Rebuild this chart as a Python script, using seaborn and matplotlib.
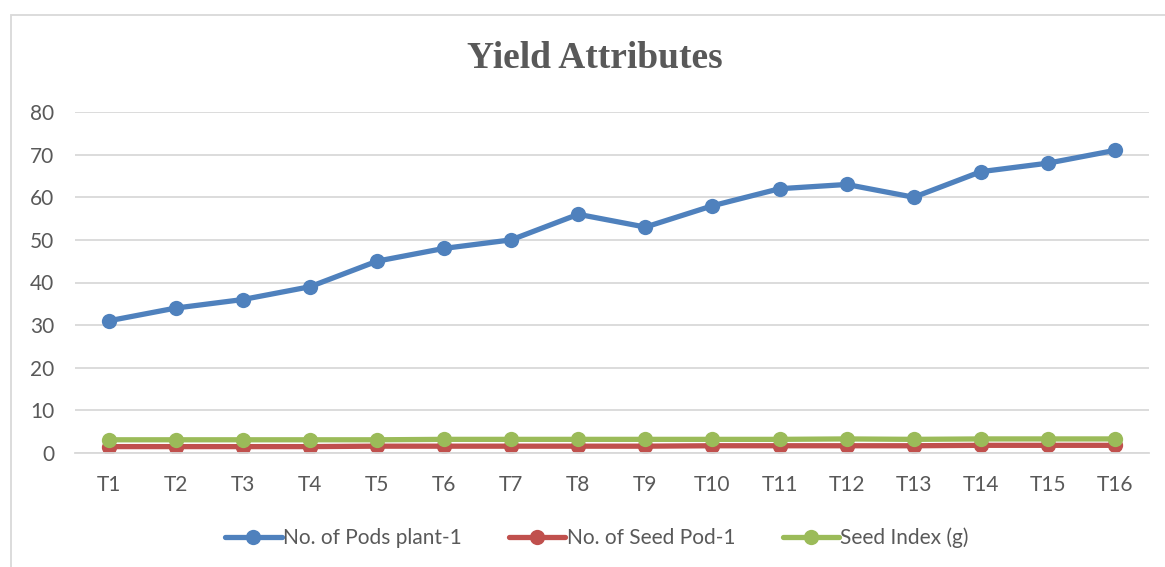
import matplotlib
matplotlib.use("Agg")
import matplotlib.pyplot as plt
import seaborn as sns
import pandas as pd
from matplotlib.patches import Rectangle

categories = ["T1", "T2", "T3", "T4", "T5", "T6", "T7", "T8",
              "T9", "T10", "T11", "T12", "T13", "T14", "T15", "T16"]
pods_per_plant = [31, 34, 36, 39, 45, 48, 50, 56, 53, 58, 62, 63, 60, 66, 68, 71]
seed_per_pod = [1.5, 1.5, 1.5, 1.5, 1.6, 1.6, 1.6, 1.6, 1.6, 1.7, 1.7, 1.7, 1.7, 1.8, 1.8, 1.8]
seed_index = [3.1, 3.1, 3.1, 3.1, 3.1, 3.2, 3.2, 3.2, 3.2, 3.2, 3.2, 3.3, 3.2, 3.3, 3.3, 3.3]
series_names = ["No. of Pods plant-1", "No. of Seed Pod-1", "Seed Index (g)"]
colors = ["#4F81BD", "#C0504D", "#9BBB59"]

rows = []
for name, vals in zip(series_names, [pods_per_plant, seed_per_pod, seed_index]):
    for c, v in zip(categories, vals):
        rows.append({"Treatment": c, "Value": v, "Series": name})
df = pd.DataFrame(rows)

sns.set_theme(style="white")
plt.rcParams["font.family"] = ["Lato", "DejaVu Sans"]
text_gray = "#595959"

fig = plt.figure(figsize=(11.65, 5.67), dpi=100)
ax = fig.add_axes([75 / 1165, 114 / 567, (1148.6 - 75) / 1165, (453 - 112) / 567])

sns.lineplot(data=df, x="Treatment", y="Value", hue="Series",
             hue_order=series_names, palette=colors, marker="o",
             markersize=11, markeredgewidth=0, linewidth=3.8,
             sort=False, ax=ax, legend=True)

ax.set_ylim(0, 80)
ax.set_xlim(-0.5, 15.5)
ax.set_yticks(range(0, 81, 10))
ax.yaxis.grid(True, color="#D9D9D9", linewidth=1.3)
ax.xaxis.grid(False)
for s in ["top", "right", "left"]:
    ax.spines[s].set_visible(False)
ax.spines["bottom"].set_color("#D9D9D9")
ax.spines["bottom"].set_linewidth(1.3)
ax.set_xlabel("")
ax.set_ylabel("")
ax.tick_params(axis="both", length=0, labelsize=15, colors=text_gray)
ax.tick_params(axis="x", pad=16)
ax.tick_params(axis="y", pad=15)

handles, labels = ax.get_legend_handles_labels()
ax.get_legend().remove()
leg = fig.legend(handles, labels, loc="center", bbox_to_anchor=(597 / 1165, 1 - 538 / 567),
                 ncol=3, frameon=False, fontsize=15, handlelength=2.7,
                 handletextpad=0.05, columnspacing=2.3)
for t in leg.get_texts():
    t.set_color(text_gray)

fig.text(595 / 1165, 1 - 58 / 567, "Yield Attributes", ha="center", va="center",
         fontsize=27, fontweight="bold", color=text_gray,
         family=["Liberation Serif", "DejaVu Serif"])

fig.patches.append(Rectangle((11 / 1165, -0.1), 1.2, 1 - 15 / 567 + 0.1,
                             transform=fig.transFigure, fill=False,
                             edgecolor="#D9D9D9", linewidth=1.3))

fig.savefig("out.png", dpi=100)
